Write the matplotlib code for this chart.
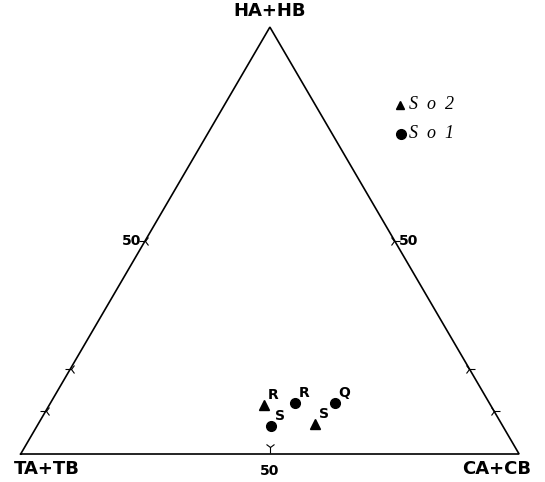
import numpy as np
import matplotlib
matplotlib.use("Agg")
import matplotlib.pyplot as plt

# Ternary composition (percent): HA+HB, CA+CB; TA+TB is the remainder
so1_labels = ["R", "Q", "S"]
so1_h = [12.0, 12.0, 6.5]
so1_c = [49.0, 57.0, 47.0]

so2_labels = ["R", "S"]
so2_h = [11.5, 7.0]
so2_c = [43.0, 55.5]

edge_ticks = [10, 20, 50]
bottom_ticks = [50]

SQ3 = np.sqrt(3) / 2


def to_xy(h, c):
    h = np.asarray(h, float) / 100.0
    c = np.asarray(c, float) / 100.0
    return c + h / 2.0, h * SQ3


fig = plt.figure(figsize=(5.45, 4.82), dpi=100)
ax = fig.add_axes([0, 0, 1, 1])
ax.set_xlim(-0.0415, 1.052)
ax.set_ylim(-0.0568, 0.921)
ax.axis("off")

# triangle outline
tx = [0, 1, 0.5, 0]
ty = [0, 0, SQ3, 0]
ax.plot(tx, ty, color="black", lw=1.2, solid_joinstyle="miter")

# edge ticks
for p in edge_ticks:
    f = p / 100.0
    ax.plot(f * 0.5, f * SQ3, marker="3", color="black", ms=8, mew=0.8)
    ax.plot(1 - f * 0.5, f * SQ3, marker="4", color="black", ms=8, mew=0.8)
for p in bottom_ticks:
    ax.plot(p / 100.0, 0.014, marker="1", color="black", ms=8, mew=0.8)

# scale labels
bold = dict(fontweight="bold", family="DejaVu Sans", color="black")
ax.text(0.25 - 0.008, 0.5 * SQ3, "50", ha="right", va="center", fontsize=10, **bold)
ax.text(0.75 + 0.008, 0.5 * SQ3, "50", ha="left", va="center", fontsize=10, **bold)
ax.text(0.5, -0.02, "50", ha="center", va="top", fontsize=10, **bold)

# vertex labels
ax.text(0.5, 0.898, "HA+HB", ha="center", va="center", fontsize=13, **bold)
ax.text(0.052, -0.03, "TA+TB", ha="center", va="center", fontsize=13, **bold)
ax.text(0.955, -0.03, "CA+CB", ha="center", va="center", fontsize=13, **bold)

# data points
x1, y1 = to_xy(so1_h, so1_c)
x2, y2 = to_xy(so2_h, so2_c)
ax.plot(x2, y2, ls="none", marker="^", color="black", ms=7)
ax.plot(x1, y1, ls="none", marker="o", color="black", ms=7)
for x, y, s in zip(list(x1) + list(x2), list(y1) + list(y2), so1_labels + so2_labels):
    ax.text(x + 0.008, y + 0.006, s, ha="left", va="bottom", fontsize=10, **bold)

# legend
leg_x = 0.762
ax.plot(leg_x, 0.708, marker="^", color="black", ms=6)
ax.text(leg_x + 0.018, 0.708, "S  o  2", ha="left", va="center", fontsize=13,
        family="Liberation Serif", style="italic")
ax.plot(leg_x + 0.002, 0.65, marker="o", color="black", ms=7)
ax.text(leg_x + 0.018, 0.65, "S  o  1", ha="left", va="center", fontsize=13,
        family="Liberation Serif", style="italic")

fig.savefig("out.png", dpi=100)
